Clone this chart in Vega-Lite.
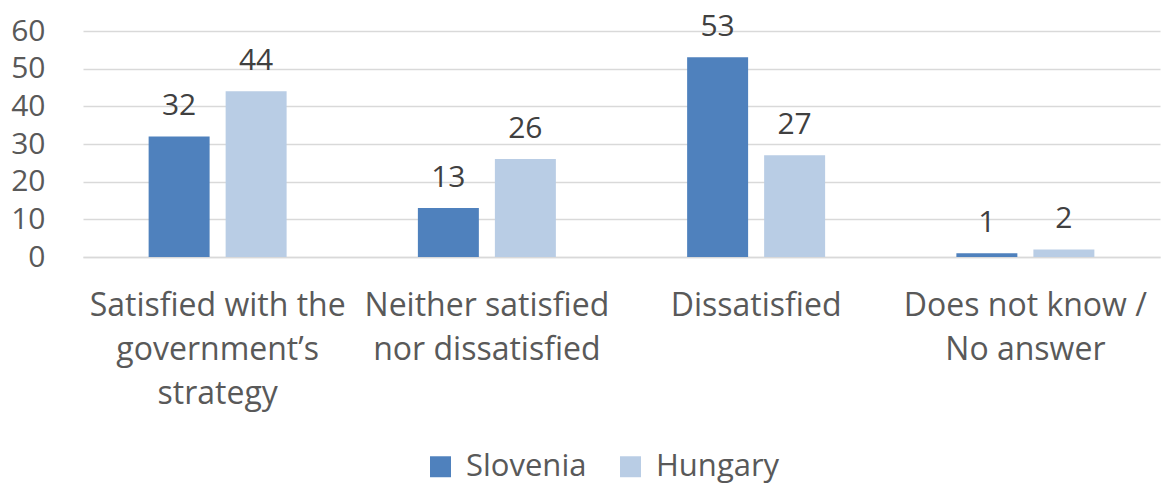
{
  "$schema": "https://vega.github.io/schema/vega-lite/v6.json",
  "width": 1077,
  "height": 226,
  "autosize": {"type": "none"},
  "padding": {"left": 83, "top": 31, "right": 8, "bottom": 228},
  "background": "white",
  "config": {
    "view": {"stroke": null},
    "font": "Open Sans",
    "axis": {"labelFont": "Open Sans", "labelColor": "#595959"},
    "legend": {"labelFont": "Open Sans", "labelColor": "#595959", "labelFontSize": 31}
  },
  "data": {
    "values": [
      {"category": "Satisfied with the government’s strategy", "country": "Slovenia", "value": 32},
      {"category": "Satisfied with the government’s strategy", "country": "Hungary", "value": 44},
      {"category": "Neither satisfied nor dissatisfied", "country": "Slovenia", "value": 13},
      {"category": "Neither satisfied nor dissatisfied", "country": "Hungary", "value": 26},
      {"category": "Dissatisfied", "country": "Slovenia", "value": 53},
      {"category": "Dissatisfied", "country": "Hungary", "value": 27},
      {"category": "Does not know / No answer", "country": "Slovenia", "value": 1},
      {"category": "Does not know / No answer", "country": "Hungary", "value": 2}
    ]
  },
  "encoding": {
    "x": {
      "field": "category",
      "type": "nominal",
      "sort": null,
      "scale": {"paddingInner": 0.4875, "paddingOuter": 0.24375},
      "axis": {
        "title": null,
        "labelAngle": 0,
        "labelFontSize": 32,
        "domainColor": "#d9d9d9",
        "domainWidth": 1.5,
        "ticks": false,
        "labelPadding": 58,
        "labelLineHeight": 44,
        "labelBaseline": "alphabetic",
        "labelLimit": 400,
        "labelExpr": "datum.value == 'Satisfied with the government’s strategy' ? ['Satisfied with the', 'government’s', 'strategy'] : datum.value == 'Neither satisfied nor dissatisfied' ? ['Neither satisfied', 'nor dissatisfied'] : datum.value == 'Does not know / No answer' ? ['Does not know /', 'No answer'] : datum.value"
      }
    },
    "xOffset": {
      "field": "country",
      "type": "nominal",
      "sort": ["Slovenia", "Hungary"],
      "scale": {"paddingInner": 0.208, "paddingOuter": 0}
    },
    "y": {
      "field": "value",
      "type": "quantitative",
      "scale": {"domain": [0, 60], "nice": false},
      "axis": {
        "title": null,
        "values": [0, 10, 20, 30, 40, 50, 60],
        "labelFontSize": 30,
        "domain": false,
        "ticks": false,
        "labelPadding": 38,
        "gridColor": "#d9d9d9",
        "gridWidth": 1.5
      }
    },
    "color": {
      "field": "country",
      "type": "nominal",
      "sort": ["Slovenia", "Hungary"],
      "scale": {"domain": ["Slovenia", "Hungary"], "range": ["#4f81bd", "#b9cde5"]},
      "legend": {
        "title": null,
        "orient": "none",
        "direction": "horizontal",
        "legendX": 342,
        "legendY": 420,
        "symbolType": "square",
        "symbolSize": 440,
        "symbolStrokeWidth": 0,
        "symbolOpacity": 1,
        "columnPadding": 28,
        "labelOffset": 10
      }
    }
  },
  "layer": [
    {"mark": {"type": "bar"}},
    {
      "mark": {"type": "text", "baseline": "alphabetic", "dy": -21, "fontSize": 30, "color": "#404040", "font": "Open Sans"},
      "encoding": {"text": {"field": "value", "type": "quantitative"}, "color": {"value": "#404040"}}
    }
  ]
}
